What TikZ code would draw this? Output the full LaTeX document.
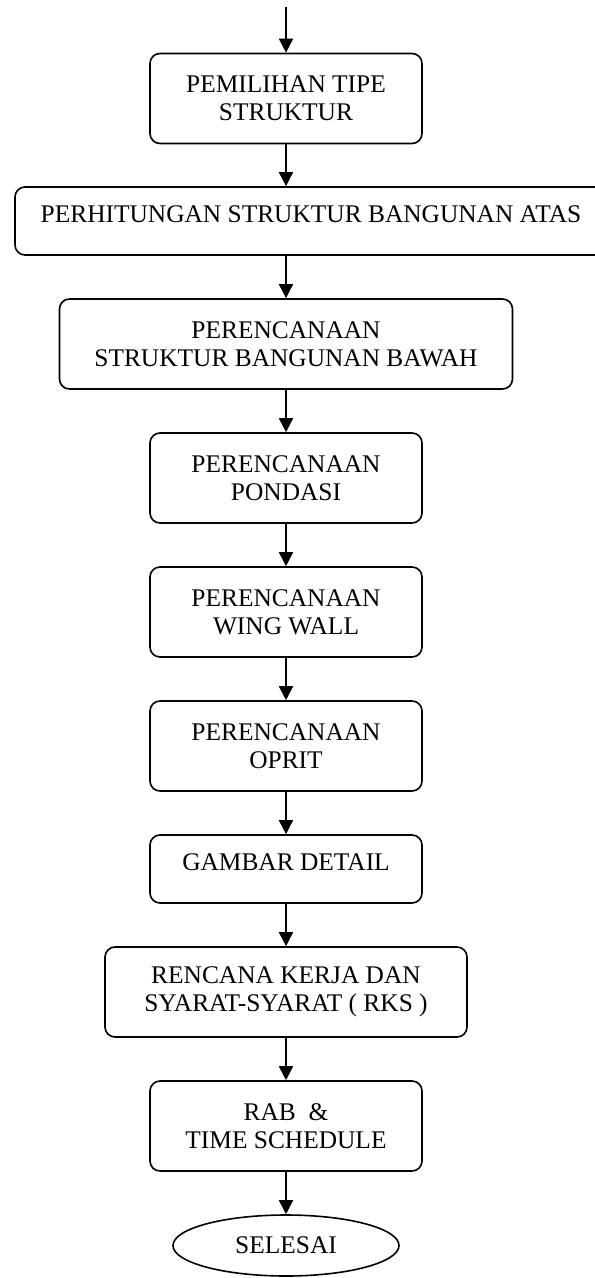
\documentclass[tikz,border=0pt]{standalone}
\usepackage{fontspec}
\setmainfont{Liberation Serif}
\usetikzlibrary{arrows.meta,shapes.geometric}
\begin{document}
\begin{tikzpicture}[x=0.5pt, y=-0.5pt, line width=0.8pt,
  every node/.style={draw, rounded corners=5pt, font=\fontsize{12.7}{14}\selectfont, align=center, inner sep=0pt, minimum width=136pt, minimum height=45pt},
  >={Triangle[length=7pt,width=7pt]}]
\useasboundingbox (0,0) rectangle (594,1278);
\coordinate (n0) at (286,7);
\node (n1) at (286,98.5) {PEMILIHAN TIPE\\STRUKTUR};
\node[minimum width=296pt, minimum height=34pt, text depth=7pt] (n2) at (311,221) {PERHITUNGAN STRUKTUR BANGUNAN ATAS};
\node[minimum width=226.5pt] (n3) at (286,344) {PERENCANAAN\\STRUKTUR BANGUNAN BAWAH};
\node (n4) at (286,478) {PERENCANAAN\\PONDASI};
\node (n5) at (286,612) {PERENCANAAN\\WING WALL};
\node (n6) at (286,746) {PERENCANAAN\\OPRIT};
\node[minimum height=34pt, text depth=7pt] (n7) at (286,869) {GAMBAR DETAIL};
\node[minimum width=181pt] (n8) at (286,992) {RENCANA KERJA DAN\\SYARAT-SYARAT ( RKS )};
\node (n9) at (286,1126) {RAB\ \ \&\\TIME SCHEDULE};
\node[ellipse, minimum width=113pt, minimum height=30.5pt] (n10) at (286,1245.5) {SELESAI};
\draw[->] (n0) -- (n1);
\draw[->] (n1.south) -- (n1.south |- n2.north);
\draw[->] (n3.north |- n2.south) -- (n3.north);
\draw[->] (n3) -- (n4);
\draw[->] (n4) -- (n5);
\draw[->] (n5) -- (n6);
\draw[->] (n6) -- (n7);
\draw[->] (n7) -- (n8);
\draw[->] (n8) -- (n9);
\draw[->] (n9) -- (n10);
\end{tikzpicture}
\end{document}
